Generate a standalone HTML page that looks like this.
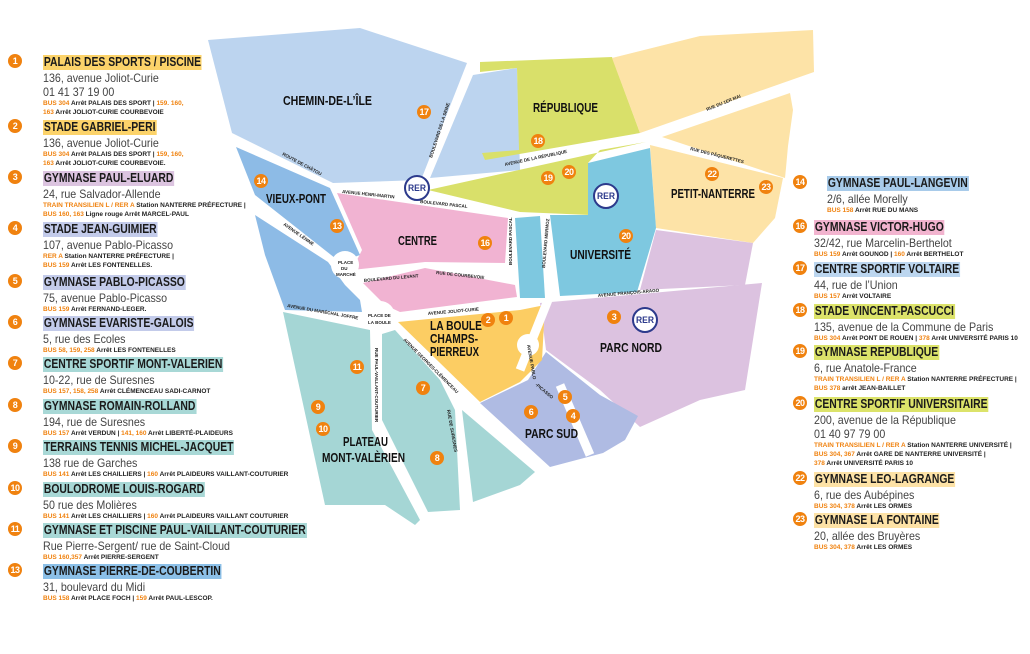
<!DOCTYPE html>
<html><head><meta charset="utf-8"><style>
body{margin:0;width:1030px;height:654px;background:#fff;position:relative;overflow:hidden;font-family:"Liberation Sans",sans-serif;}
.e{position:absolute;color:#333;}
.b{position:absolute;width:14px;height:14px;border-radius:50%;background:#f0820f;color:#fff;font:bold 9px "Liberation Sans",sans-serif;text-align:center;line-height:14px;letter-spacing:-0.5px}
.t{font-weight:bold;font-size:12.5px;color:#1a1a1a;line-height:15px;display:inline-block;padding:0 1px;transform:scaleX(.83);transform-origin:0 0;white-space:nowrap}
.a{font-size:12px;line-height:14px;color:#444;display:block;transform:scaleX(.89);transform-origin:0 0;white-space:nowrap}
.s{font-size:6.5px;line-height:9px;font-weight:bold;color:#222;white-space:nowrap}
.s i{font-style:normal;color:#f0820f}
</style></head><body>
<svg width="1030" height="654" style="position:absolute;left:0;top:0">
<g stroke="none">
<polygon fill="#bcd4ef" points="208,40 360,28 467,63 421,180 333,183 232,133"/>
<polygon fill="#bcd4ef" points="473,75 517,68 520,170 430,178"/>
<polygon fill="#d9e06a" points="480,62 612,57 640,133 485,160 482,153 519,150 517,68 480,72"/>
<polygon fill="#d9e06a" points="428,190 646,142 600,150 588,163 590,215 520,212"/>
<polygon fill="#fde3a7" points="612,58 700,36 813,30 814,72 640,133"/>
<polygon fill="#fde3a7" points="662,137 790,93 793,110 788,146 786,168 785,178"/>
<polygon fill="#fde3a7" points="650,145 783,178 775,218 753,243 656,228"/>
<polygon fill="#dcc2e0" points="656,230 753,243 745,285 640,290"/>
<polygon fill="#7ec8e0" points="515,218 540,216 545,298 520,298"/>
<polygon fill="#7ec8e0" points="550,215 588,215 588,163 650,148 656,228 637,292 560,296"/>
<polygon fill="#dcc2e0" points="540,303 762,283 745,390 700,400 640,427 600,390 546,350"/>
<polygon fill="#afbbe3" points="528,380 546,352 600,395 638,416 625,440 603,453 550,467 480,403"/>
<polygon fill="#fccd63" points="398,322 520,310 545,305 542,360 520,382 480,402"/>
<polygon fill="#f1b3d2" points="337,193 508,218 505,263 425,262 352,270 362,250"/>
<polygon fill="#f1b3d2" points="363,283 425,268 515,285 517,297 400,312 385,305"/>
<polygon fill="#8dbbe6" points="236,147 330,188 360,255 340,262 255,195"/>
<polygon fill="#8dbbe6" points="255,215 328,262 345,285 360,300 362,312 285,310 265,255"/>
<polygon fill="#a5d6d5" points="283,312 370,330 372,430 420,520 415,525 385,505 325,505"/>
<polygon fill="#a5d6d5" points="382,334 395,330 440,380 455,410 460,510 428,512 382,420"/>
<polygon fill="#a5d6d5" points="462,410 535,472 520,485 473,502"/>
</g>
<g stroke="#fff" stroke-width="9" fill="none">
<line x1="548" y1="300" x2="520" y2="370"/>
<line x1="560" y1="385" x2="590" y2="455"/>
</g>
<circle cx="528" cy="345" r="11" fill="#fff"/>
<circle cx="345" cy="265" r="14" fill="#fff"/>
<circle cx="380" cy="316" r="15" fill="#fff"/>
<g fill="#fff" stroke="#2c3a8c" stroke-width="2"><circle cx="417" cy="188" r="12"/><circle cx="606" cy="196" r="12"/><circle cx="645" cy="320" r="12"/></g>
<g fill="#2c3a8c" font-family="Liberation Sans, sans-serif" font-weight="bold" font-size="9" text-anchor="middle"><text x="417" y="191" textLength="18" lengthAdjust="spacingAndGlyphs">RER</text><text x="606" y="199" textLength="18" lengthAdjust="spacingAndGlyphs">RER</text><text x="645" y="323" textLength="18" lengthAdjust="spacingAndGlyphs">RER</text></g>
<g fill="#111" font-family="Liberation Sans, sans-serif" font-weight="bold" font-size="12.5" lengthAdjust="spacingAndGlyphs">
<text x="283" y="105" textLength="89" lengthAdjust="spacingAndGlyphs">CHEMIN-DE-L’ÎLE</text>
<text x="533" y="112" textLength="65" lengthAdjust="spacingAndGlyphs">RÉPUBLIQUE</text>
<text x="266" y="203" textLength="60" lengthAdjust="spacingAndGlyphs">VIEUX-PONT</text>
<text x="398" y="245" textLength="39" lengthAdjust="spacingAndGlyphs">CENTRE</text>
<text x="570" y="259" textLength="61" lengthAdjust="spacingAndGlyphs">UNIVERSITÉ</text>
<text x="671" y="198" textLength="84" lengthAdjust="spacingAndGlyphs">PETIT-NANTERRE</text>
<text x="600" y="352" textLength="62" lengthAdjust="spacingAndGlyphs">PARC NORD</text>
<text x="525" y="438" textLength="53" lengthAdjust="spacingAndGlyphs">PARC SUD</text>
<text x="343" y="446" textLength="45" lengthAdjust="spacingAndGlyphs">PLATEAU</text>
<text x="322" y="462" textLength="83" lengthAdjust="spacingAndGlyphs">MONT-VALÈRIEN</text>
<text x="430" y="330" textLength="52" lengthAdjust="spacingAndGlyphs">LA BOULE</text>
<text x="430" y="343" textLength="48" lengthAdjust="spacingAndGlyphs">CHAMPS-</text>
<text x="430" y="356" textLength="49" lengthAdjust="spacingAndGlyphs">PIERREUX</text>
</g>
<g fill="#222" font-family="Liberation Sans, sans-serif" font-weight="bold" font-size="4.5">
<text transform="translate(282,155) rotate(28)">ROUTE DE CHÂTOU</text>
<text transform="translate(342,193) rotate(6)">AVENUE HENRI-MARTIN</text>
<text transform="translate(420,203) rotate(6)">BOULEVARD PASCAL</text>
<text transform="translate(432,158) rotate(-72)">BOULEVARD DE LA SEINE</text>
<text transform="translate(505,166) rotate(-12)">AVENUE DE LA RÉPUBLIQUE</text>
<text transform="translate(707,111) rotate(-22)">RUE DU 1ER MAI</text>
<text transform="translate(690,150) rotate(14)">RUE DES PÂQUERETTES</text>
<text transform="translate(283,225) rotate(35)">AVENUE LÉNINE</text>
<text transform="translate(364,282) rotate(-5)">BOULEVARD DU LEVANT</text>
<text transform="translate(436,274) rotate(6)">RUE DE COURBEVOIE</text>
<text transform="translate(512,265) rotate(-90)">BOULEVARD PASCAL</text>
<text transform="translate(545,268) rotate(-85)">BOULEVARD MERMOZ</text>
<text transform="translate(598,297) rotate(-5)">AVENUE FRANÇOIS-ARAGO</text>
<text transform="translate(428,315) rotate(-5)">AVENUE JOLIOT-CURIE</text>
<text transform="translate(287,307) rotate(10)">AVENUE DU MARÉCHAL JOFFRE</text>
<text transform="translate(375,348) rotate(90)">RUE PAUL-VAILLANT-COUTURIER</text>
<text transform="translate(403,340) rotate(45)">AVENUE GEORGES-CLÉMENCEAU</text>
<text transform="translate(447,410) rotate(80)">RUE DE SURESNES</text>
<text transform="translate(527,345) rotate(80)">AVENUE PABLO</text>
<text transform="translate(535,385) rotate(40)">-PICASSO</text>
<text x="338" y="264">PLACE</text><text x="341" y="270">DU</text><text x="336" y="276">MARCHÉ</text>
<text x="368" y="317">PLACE DE</text><text x="368" y="324">LA BOULE</text>
</g>
</svg>
<div class="b" style="left:499px;top:311px">1</div><div class="b" style="left:481px;top:313px">2</div><div class="b" style="left:607px;top:310px">3</div><div class="b" style="left:566px;top:409px">4</div><div class="b" style="left:558px;top:390px">5</div><div class="b" style="left:524px;top:405px">6</div><div class="b" style="left:416px;top:381px">7</div><div class="b" style="left:430px;top:451px">8</div><div class="b" style="left:311px;top:400px">9</div><div class="b" style="left:316px;top:422px">10</div><div class="b" style="left:350px;top:360px">11</div><div class="b" style="left:330px;top:219px">13</div><div class="b" style="left:254px;top:174px">14</div><div class="b" style="left:478px;top:236px">16</div><div class="b" style="left:417px;top:105px">17</div><div class="b" style="left:531px;top:134px">18</div><div class="b" style="left:541px;top:171px">19</div><div class="b" style="left:562px;top:165px">20</div><div class="b" style="left:619px;top:229px">20</div><div class="b" style="left:705px;top:167px">22</div><div class="b" style="left:759px;top:180px">23</div>

<div class="b" style="left:8px;top:54px">1</div><div class="e" style="left:43px;top:53px"><span class="t" style="background:#fcd36a">PALAIS DES SPORTS / PISCINE</span><div class="a">136, avenue Joliot-Curie<br>01 41 37 19 00</div><div class="s"><i>BUS 304</i> Arrêt PALAIS DES SPORT | <i>159. 160,</i><br><i>163</i> Arrêt JOLIOT-CURIE COURBEVOIE</div></div>
<div class="b" style="left:8px;top:119px">2</div><div class="e" style="left:43px;top:118px"><span class="t" style="background:#fcd36a">STADE GABRIEL-PERI</span><div class="a">136, avenue Joliot-Curie</div><div class="s"><i>BUS 304</i> Arrêt PALAIS DES SPORT | <i>159, 160,</i><br><i>163</i> Arrêt JOLIOT-CURIE COURBEVOIE.</div></div>
<div class="b" style="left:8px;top:170px">3</div><div class="e" style="left:43px;top:169px"><span class="t" style="background:#dcc4e0">GYMNASE PAUL-ELUARD</span><div class="a">24, rue Salvador-Allende</div><div class="s"><i>TRAIN TRANSILIEN L / RER A</i> Station NANTERRE PRÉFECTURE |<br><i>BUS 160, 163</i> Ligne rouge Arrêt MARCEL-PAUL</div></div>
<div class="b" style="left:8px;top:221px">4</div><div class="e" style="left:43px;top:220px"><span class="t" style="background:#c3cbea">STADE JEAN-GUIMIER</span><div class="a">107, avenue Pablo-Picasso</div><div class="s"><i>RER A</i> Station NANTERRE PRÉFECTURE |<br><i>BUS 159</i> Arrêt LES FONTENELLES.</div></div>
<div class="b" style="left:8px;top:274px">5</div><div class="e" style="left:43px;top:273px"><span class="t" style="background:#c3cbea">GYMNASE PABLO-PICASSO</span><div class="a">75, avenue Pablo-Picasso</div><div class="s"><i>BUS 159</i> Arrêt FERNAND-LEGER.</div></div>
<div class="b" style="left:8px;top:315px">6</div><div class="e" style="left:43px;top:314px"><span class="t" style="background:#c3cbea">GYMNASE EVARISTE-GALOIS</span><div class="a">5, rue des Ecoles</div><div class="s"><i>BUS 58, 159, 258</i> Arrêt LES FONTENELLES</div></div>
<div class="b" style="left:8px;top:356px">7</div><div class="e" style="left:43px;top:355px"><span class="t" style="background:#a8d8d6">CENTRE SPORTIF MONT-VALERIEN</span><div class="a">10-22, rue de Suresnes</div><div class="s"><i>BUS 157, 158, 258</i> Arrêt CLÉMENCEAU SADI-CARNOT</div></div>
<div class="b" style="left:8px;top:398px">8</div><div class="e" style="left:43px;top:397px"><span class="t" style="background:#a8d8d6">GYMNASE ROMAIN-ROLLAND</span><div class="a">194, rue de Suresnes</div><div class="s"><i>BUS 157</i> Arrêt VERDUN | <i>141, 160</i> Arrêt LIBERTÉ-PLAIDEURS</div></div>
<div class="b" style="left:8px;top:439px">9</div><div class="e" style="left:43px;top:438px"><span class="t" style="background:#a8d8d6">TERRAINS TENNIS MICHEL-JACQUET</span><div class="a">138 rue de Garches</div><div class="s"><i>BUS 141</i> Arrêt LES CHAILLIERS | <i>160</i> Arrêt PLAIDEURS VAILLANT-COUTURIER</div></div>
<div class="b" style="left:8px;top:481px">10</div><div class="e" style="left:43px;top:480px"><span class="t" style="background:#a8d8d6">BOULODROME LOUIS-ROGARD</span><div class="a">50 rue des Molières</div><div class="s"><i>BUS 141</i> Arrêt LES CHAILLIERS | <i>160</i> Arrêt PLAIDEURS VAILLANT COUTURIER</div></div>
<div class="b" style="left:8px;top:522px">11</div><div class="e" style="left:43px;top:521px"><span class="t" style="background:#a8d8d6">GYMNASE ET PISCINE PAUL-VAILLANT-COUTURIER</span><div class="a">Rue Pierre-Sergent/ rue de Saint-Cloud</div><div class="s"><i>BUS 160,357</i> Arrêt PIERRE-SERGENT</div></div>
<div class="b" style="left:8px;top:563px">13</div><div class="e" style="left:43px;top:562px"><span class="t" style="background:#8cc0e8">GYMNASE PIERRE-DE-COUBERTIN</span><div class="a">31, boulevard du Midi</div><div class="s"><i>BUS 158</i> Arrêt PLACE FOCH | <i>159</i> Arrêt PAUL-LESCOP.</div></div>

<div class="b" style="left:793px;top:175px">14</div><div class="e" style="left:827px;top:174px"><span class="t" style="background:#a8cbea">GYMNASE PAUL-LANGEVIN</span><div class="a">2/6, allée Morelly</div><div class="s"><i>BUS 158</i> Arrêt RUE DU MANS</div></div>
<div class="b" style="left:793px;top:219px">16</div><div class="e" style="left:814px;top:218px"><span class="t" style="background:#f2b4cf">GYMNASE VICTOR-HUGO</span><div class="a">32/42, rue Marcelin-Berthelot</div><div class="s"><i>BUS 159</i> Arrêt GOUNOD | <i>160</i> Arrêt BERTHELOT</div></div>
<div class="b" style="left:793px;top:261px">17</div><div class="e" style="left:814px;top:260px"><span class="t" style="background:#bcd6ef">CENTRE SPORTIF VOLTAIRE</span><div class="a">44, rue de l’Union</div><div class="s"><i>BUS 157</i> Arrêt VOLTAIRE</div></div>
<div class="b" style="left:793px;top:303px">18</div><div class="e" style="left:814px;top:302px"><span class="t" style="background:#dce36a">STADE VINCENT-PASCUCCI</span><div class="a">135, avenue de la Commune de Paris</div><div class="s"><i>BUS 304</i> Arrêt PONT DE ROUEN | <i>378</i> Arrêt UNIVERSITÉ PARIS 10</div></div>
<div class="b" style="left:793px;top:344px">19</div><div class="e" style="left:814px;top:343px"><span class="t" style="background:#dce36a">GYMNASE REPUBLIQUE</span><div class="a">6, rue Anatole-France</div><div class="s"><i>TRAIN TRANSILIEN L / RER A</i> Station NANTERRE PRÉFECTURE |<br><i>BUS 378</i> arrêt JEAN-BAILLET</div></div>
<div class="b" style="left:793px;top:396px">20</div><div class="e" style="left:814px;top:395px"><span class="t" style="background:#dce36a">CENTRE SPORTIF UNIVERSITAIRE</span><div class="a">200, avenue de la République<br>01 40 97 79 00</div><div class="s"><i>TRAIN TRANSILIEN L / RER A</i> Station NANTERRE UNIVERSITÉ |<br><i>BUS 304, 367</i> Arrêt GARE DE NANTERRE UNIVERSITÉ |<br><i>378</i> Arrêt UNIVERSITÉ PARIS 10</div></div>
<div class="b" style="left:793px;top:471px">22</div><div class="e" style="left:814px;top:470px"><span class="t" style="background:#fde2a6">GYMNASE LEO-LAGRANGE</span><div class="a">6, rue des Aubépines</div><div class="s"><i>BUS 304, 378</i> Arrêt LES ORMES</div></div>
<div class="b" style="left:793px;top:512px">23</div><div class="e" style="left:814px;top:511px"><span class="t" style="background:#fde2a6">GYMNASE LA FONTAINE</span><div class="a">20, allée des Bruyères</div><div class="s"><i>BUS 304, 378</i> Arrêt LES ORMES</div></div>
</body></html>
